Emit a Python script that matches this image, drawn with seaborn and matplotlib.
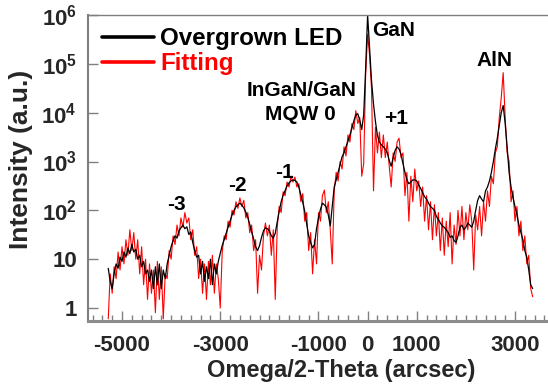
import numpy as np
import pandas as pd
import matplotlib
matplotlib.use("Agg")
import matplotlib.pyplot as plt
import seaborn as sns
from matplotlib.ticker import MultipleLocator, NullLocator

# ---- data ----
scan_start = -5280   # arcsec
scan_step = 40       # arcsec

overgrown_led = [
    6.5, 3.5, 2.5, 5, 8, 6.5, 11, 9, 14, 11,
    17, 13, 20, 14, 16, 10, 12, 7, 9, 5,
    6, 3.5, 6, 2.5, 7, 3, 8, 2.5, 6, 4,
    8, 12, 18, 24, 30, 27, 38, 44, 50, 42,
    46, 32, 36, 22, 15, 11, 12, 5, 9, 3.5,
    7, 4, 10, 3, 8, 5, 9, 13, 19, 25,
    34, 45, 60, 80, 100, 118, 130, 140, 128, 112,
    92, 72, 52, 36, 26, 18, 15, 19, 28, 38,
    44, 42, 38, 30, 27, 34, 58, 95, 150, 205,
    255, 315, 365, 400, 420, 410, 380, 300, 210, 145,
    95, 52, 30, 22, 17, 20, 42, 70, 105, 140,
    130, 115, 80, 48, 120, 300, 420, 600, 870, 1250,
    1500, 2000, 2600, 3500, 4800, 6800, 9000, 9500, 7000, 4500,
    9000, 80000, 1000000, 220000, 45000, 15000, 6500, 3400, 2500, 2200,
    2000, 1800, 1500, 1050, 800, 1200, 1700, 2000, 1800, 1400,
    900, 600, 420, 350, 380, 420, 420, 400, 330, 280,
    230, 190, 170, 140, 120, 110, 100, 75, 65, 55,
    48, 45, 40, 35, 28, 30, 24, 22, 30, 45,
    50, 40, 45, 55, 50, 45, 60, 100, 160, 200,
    170, 150, 250, 300, 400, 600, 1000, 1800, 3000, 5500,
    10000, 14000, 6000, 2000, 600, 300, 180, 120, 80, 50,
    35, 25, 15, 11, 6, 3, 2.5,
]

fitting = [
    0.6, 5, 2, 7, 4, 14, 6, 18, 8, 25,
    12, 40, 15, 35, 10, 25, 5, 18, 3, 10,
    1.5, 8, 2, 6, 0.8, 9, 1.5, 7, 0.6, 5,
    4, 15, 10, 30, 20, 50, 30, 70, 45, 90,
    55, 70, 25, 40, 12, 18, 4, 10, 2, 8,
    1.5, 9, 3, 12, 2, 8, 4, 1.0, 14, 30,
    25, 60, 45, 100, 80, 150, 110, 180, 120, 160,
    70, 90, 35, 50, 15, 25, 2, 12, 6, 30,
    55, 30, 50, 12, 40, 1.5, 45, 120, 90, 240,
    200, 380, 300, 500, 380, 480, 300, 350, 150, 220,
    60, 90, 15, 35, 5, 25, 8, 90, 60, 200,
    260, 90, 150, 40, 8, 250, 600, 400, 1000, 700,
    2000, 1300, 3500, 2500, 6000, 4500, 11000, 6000, 8000, 500,
    900, 60000, 400000, 150000, 30000, 250, 5000, 1500, 4000, 1200,
    3500, 1200, 2500, 800, 300, 1500, 1000, 2500, 3000, 1200,
    1500, 200, 600, 60, 500, 150, 700, 250, 400, 120,
    300, 60, 200, 40, 150, 25, 130, 30, 90, 15,
    70, 12, 60, 18, 90, 8, 50, 20, 100, 30,
    120, 25, 90, 40, 130, 60, 6, 80, 40, 120,
    30, 150, 60, 250, 120, 500, 350, 1500, 2000, 8000,
    20000, 66000, 8000, 1500, 1000, 150, 250, 60, 120, 30,
    60, 15, 30, 8, 12, 2.5, 1.7,
]

x_ticks = [-5000, -3000, -1000, 0, 1000, 3000]
x_tick_labels = ["-5000", "-3000", "-1000", "0", "1000", "3000"]
y_ticks = [1, 10, 1e2, 1e3, 1e4, 1e5, 1e6]
y_tick_labels = ["1", "10", r"$\mathbf{10^{2}}$", r"$\mathbf{10^{3}}$",
                 r"$\mathbf{10^{4}}$", r"$\mathbf{10^{5}}$", r"$\mathbf{10^{6}}$"]

peak_names = ["GaN", "AlN", "InGaN/GaN", "MQW 0", "+1", "-1", "-2", "-3"]

# ---- frames ----
omega_black = scan_start + scan_step * np.arange(len(overgrown_led))
omega_red = scan_start + scan_step * np.arange(len(fitting))
df_black = pd.DataFrame({"omega": omega_black, "intensity": overgrown_led})
df_red = pd.DataFrame({"omega": omega_red, "intensity": fitting})

# ---- style ----
sns.set_style("white")
plt.rcParams["font.family"] = ["Liberation Sans", "DejaVu Sans"]
plt.rcParams["font.weight"] = "bold"
plt.rcParams["mathtext.fontset"] = "custom"
plt.rcParams["mathtext.rm"] = "Liberation Sans:bold"
plt.rcParams["mathtext.bf"] = "Liberation Sans:bold"
plt.rcParams["mathtext.it"] = "Liberation Sans:bold"

W, H = 548, 388
fig = plt.figure(figsize=(W / 100, H / 100), dpi=100)
ax = fig.add_axes([88 / W, 67 / H, 460 / W, 306 / H])

sns.lineplot(data=df_red, x="omega", y="intensity", ax=ax, color="#ff0000",
             lw=0.8, estimator=None, sort=False, label="Fitting")
sns.lineplot(data=df_black, x="omega", y="intensity", ax=ax, color="#000000",
             lw=0.9, estimator=None, sort=False, label="Overgrown LED")

ax.set_yscale("log")
ax.set_xlim(-5692, 3672)
ax.set_ylim(0.542, 1e6)

ax.set_xticks(x_ticks)
ax.set_xticklabels(x_tick_labels)
ax.xaxis.set_minor_locator(MultipleLocator(200))
ax.set_yticks(y_ticks)
ax.set_yticklabels(y_tick_labels)
ax.yaxis.set_minor_locator(NullLocator())

ax.tick_params(axis="x", which="major", direction="in", length=7, width=1,
               color="#808080", pad=10, labelsize=16)
ax.tick_params(axis="x", which="minor", direction="in", length=4, width=1,
               color="#808080")
ax.tick_params(axis="y", which="major", direction="in", length=7, width=1,
               color="#808080", pad=8, labelsize=16)
ax.tick_params(axis="x", which="both", bottom=True, top=False)
ax.tick_params(axis="y", which="both", left=True, right=False)

for side, lw, col in [("left", 1.5, "#7f7f7f"), ("bottom", 2.2, "#8c8c8c"),
                      ("top", 1.0, "#7f7f7f")]:
    ax.spines[side].set_visible(True)
    ax.spines[side].set_linewidth(lw)
    ax.spines[side].set_color(col)
ax.spines["right"].set_visible(False)

ax.set_xlabel("Omega/2-Theta (arcsec)", fontsize=17, fontweight="bold")
ax.xaxis.set_label_coords(0.55, -0.124)
ax.set_ylabel("Intensity (a.u.)", fontsize=19, fontweight="bold")
ax.yaxis.set_label_coords(-0.12, 0.529)

handles, labels = ax.get_legend_handles_labels()
order = [labels.index("Overgrown LED"), labels.index("Fitting")]
leg = ax.legend([handles[i] for i in order], [labels[i] for i in order],
                loc="upper left", bbox_to_anchor=(102 / W, 1 - 27 / H),
                bbox_transform=fig.transFigure, frameon=False, fontsize=17.4,
                handlelength=2.15, handletextpad=0.25, labelspacing=0.1,
                borderpad=0, borderaxespad=0)
for line in leg.get_lines():
    line.set_linewidth(2.6)
leg.get_texts()[0].set_color("black")
leg.get_texts()[1].set_color("#ff0000")

label_px = {"GaN": (394, 31), "AlN": (494, 60), "InGaN/GaN": (302, 90),
            "MQW 0": (300, 115), "+1": (396, 118), "-1": (284, 172),
            "-2": (237, 185), "-3": (176, 205)}
for name in peak_names:
    px, py = label_px[name]
    fig.text(px / W, 1 - py / H, name, ha="center", va="center",
             fontsize=15, fontweight="bold", color="black")

fig.savefig("out.png", dpi=100)
